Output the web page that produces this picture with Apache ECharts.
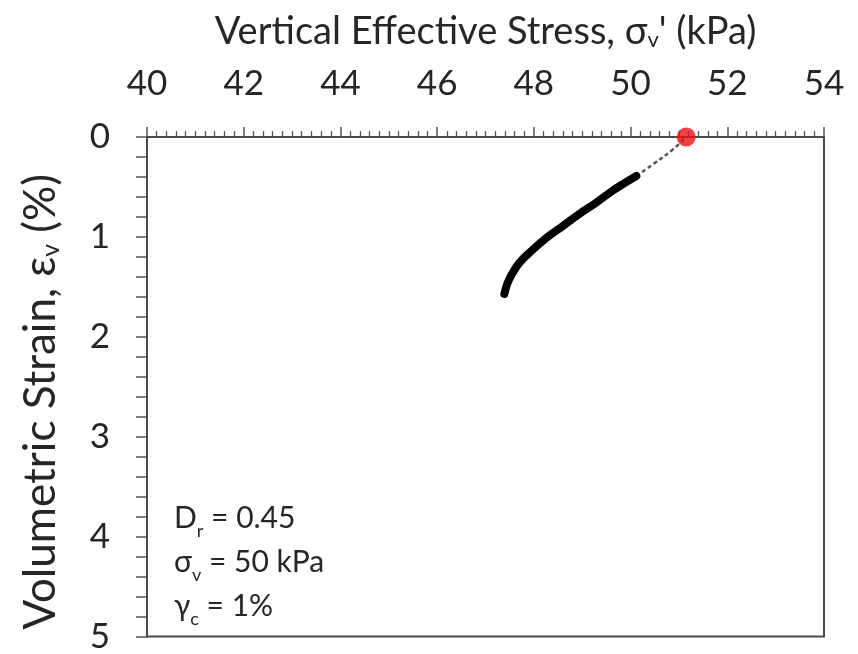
<!DOCTYPE html>
<html><head><meta charset="utf-8">
<script src="https://cdn.jsdelivr.net/npm/echarts@6/dist/echarts.min.js"></script>
<style>html,body{margin:0;padding:0;background:#fff}#c{width:858px;height:654px}</style>
</head><body><div id="c"></div>
<script>
// Thick measured curve (stress kPa, volumetric strain %)
const curveStress = [47.39, 47.45, 47.55, 47.70, 47.95, 48.26, 48.60, 48.94, 49.28, 49.62, 49.88, 50.12];
const curveStrain = [1.57, 1.47, 1.37, 1.26, 1.14, 1.01, 0.89, 0.77, 0.66, 0.54, 0.46, 0.39];
// Thin sparse segment leading to the initial state
const thinStress = [50.12, 50.50, 50.86, 51.15];
const thinStrain = [0.39, 0.26, 0.13, 0.00];
// Initial state marker
const startStress = [51.15];
const startStrain = [0.00];
// Axis ticks
const xMin = 40, xMax = 54, xStep = 2;
const yMin = 0, yMax = 5, yStep = 1;

const zip = (a, b) => a.map((v, i) => [v, b[i]]);
const FONT = 'Lato';
const TXT = '#262626';
const chart = echarts.init(document.getElementById('c'));
chart.setOption({
  animation: false,
  backgroundColor: '#fff',
  grid: { left: 147, right: 34, top: 137, bottom: 7, show: true, borderColor: '#4a4a4a', borderWidth: 2, backgroundColor: 'transparent' },
  xAxis: {
    type: 'value', position: 'top', min: xMin, max: xMax, interval: xStep,
    name: "Vertical Effective Stress, σ{s|v}' (kPa)", nameLocation: 'middle', nameGap: 86,
    nameTextStyle: { fontFamily: FONT, fontSize: 38, color: TXT,
      rich: { s: { fontFamily: FONT, fontSize: 22, color: TXT, verticalAlign: 'bottom', padding: [17, 0, 0, 0] } } },
    axisLine: { show: true, lineStyle: { color: '#4a4a4a', width: 2 } },
    axisTick: { show: true, inside: false, length: 10, lineStyle: { color: '#555', width: 1.5 } },
    minorTick: { show: true, splitNumber: 10, length: 6, lineStyle: { color: '#555', width: 1.3 } },
    axisLabel: { fontFamily: FONT, fontSize: 35, color: TXT, margin: 36 },
    splitLine: { show: false }
  },
  yAxis: {
    type: 'value', inverse: true, min: yMin, max: yMax, interval: yStep,
    name: 'Volumetric Strain, ε{s|v} (%)', nameLocation: 'middle', nameGap: 84, nameRotate: 90,
    nameTextStyle: { fontFamily: FONT, fontSize: 44, color: TXT, padding: [0, 30, 0, 0],
      rich: { s: { fontFamily: FONT, fontSize: 25, color: TXT, verticalAlign: 'bottom', padding: [19, 0, 0, 0] } } },
    axisLine: { show: true, lineStyle: { color: '#4a4a4a', width: 2 } },
    axisTick: { show: true, inside: false, length: 11, lineStyle: { color: '#555', width: 1.5 } },
    minorTick: { show: true, splitNumber: 5, length: 11, lineStyle: { color: '#555', width: 1.5 } },
    axisLabel: { fontFamily: FONT, fontSize: 35, color: TXT, margin: 37 },
    splitLine: { show: false }
  },
  series: [
    { type: 'line', data: zip(thinStress, thinStrain), symbol: 'none', smooth: true,
      lineStyle: { color: '#555', width: 2.5, type: [4, 3] }, z: 2 },
    { type: 'line', data: zip(curveStress, curveStrain), symbol: 'none', smooth: 0.4,
      lineStyle: { color: '#000', width: 8, cap: 'round', join: 'round' }, z: 3 },
    { type: 'scatter', data: zip(startStress, startStrain), symbol: 'circle', symbolSize: 19,
      itemStyle: { color: '#ec1218' }, z: 5 }
  ],
  graphic: [{
    type: 'text', left: 174, top: 496,
    style: {
      text: 'D{s|r} = 0.45\nσ{s|v} = 50 kPa\nγ{s|c} = 1%',
      fontFamily: FONT, fontSize: 30, fill: TXT, lineHeight: 44,
      rich: { s: { fontFamily: FONT, fontSize: 18, fill: TXT, verticalAlign: 'bottom', lineHeight: 44, padding: [14, 0, 0, 0] } }
    }
  }]
});
</script></body></html>
